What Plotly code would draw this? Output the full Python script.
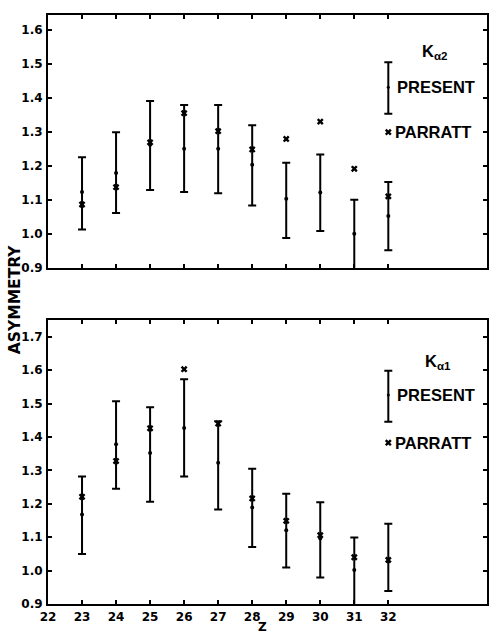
import plotly.graph_objects as go

# ---- data ----
z = [23, 24, 25, 26, 27, 28, 29, 30, 31, 32]
x_ticks = [22, 23, 24, 25, 26, 27, 28, 29, 30, 31, 32]

# K alpha 2 (top panel)
ka2_present = [1.124, 1.180, 1.263, 1.251, 1.251, 1.204, 1.104, 1.122, 1.001, 1.053]
ka2_low = [1.013, 1.062, 1.130, 1.124, 1.120, 1.084, 0.988, 1.009, 0.880, 0.952]
ka2_high = [1.226, 1.300, 1.392, 1.380, 1.380, 1.320, 1.210, 1.234, 1.101, 1.153]
ka2_parratt = [1.087, 1.138, 1.270, 1.356, 1.303, 1.249, 1.280, 1.331, 1.192, 1.111]

# K alpha 1 (bottom panel)
ka1_present = [1.168, 1.378, 1.352, 1.427, 1.323, 1.189, 1.121, 1.096, 1.002, 1.027]
ka1_low = [1.050, 1.245, 1.206, 1.282, 1.183, 1.071, 1.009, 0.979, 0.880, 0.939]
ka1_high = [1.282, 1.507, 1.489, 1.573, 1.447, 1.305, 1.230, 1.205, 1.099, 1.140]
ka1_parratt = [1.221, 1.328, 1.426, 1.603, 1.440, 1.216, 1.149, 1.106, 1.040, 1.032]

# legend samples (drawn inside each panel)
leg_x = [32]
leg2_present, leg2_low, leg2_high, leg2_parratt = [1.432], [1.354], [1.506], [1.300]
leg1_present, leg1_low, leg1_high, leg1_parratt = [1.526], [1.446], [1.598], [1.383]

FONT = "Liberation Sans"
TICKFONT = "DejaVu Sans"
BLACK = "black"

fig = go.Figure()


def add_panel(xa, ya, xs, c, lo, hi, par, dot=4):
    fig.add_trace(go.Scatter(
        x=xs, y=c, mode="markers", xaxis=xa, yaxis=ya,
        marker=dict(symbol="circle", size=dot, color=BLACK),
        error_y=dict(type="data", symmetric=False,
                     array=[h - v for h, v in zip(hi, c)],
                     arrayminus=[v - l for v, l in zip(c, lo)],
                     color=BLACK, thickness=2, width=4),
        showlegend=False, hoverinfo="skip"))
    fig.add_trace(go.Scatter(
        x=xs, y=par, mode="markers", xaxis=xa, yaxis=ya,
        marker=dict(symbol="x", size=6, color=BLACK),
        showlegend=False, hoverinfo="skip"))


add_panel("x", "y", z, ka2_present, ka2_low, ka2_high, ka2_parratt)
add_panel("x2", "y2", z, ka1_present, ka1_low, ka1_high, ka1_parratt)
# legend sample marks
add_panel("x", "y", leg_x, leg2_present, leg2_low, leg2_high, leg2_parratt, dot=3)
add_panel("x2", "y2", leg_x, leg1_present, leg1_low, leg1_high, leg1_parratt, dot=3)

tickfont = dict(family=TICKFONT, size=12, color=BLACK, weight="bold")
common_axis = dict(showline=True, linewidth=2, linecolor=BLACK, mirror="ticks",
                   ticks="inside", ticklen=4, tickwidth=1.5, tickcolor=BLACK,
                   showgrid=False, zeroline=False, tickfont=tickfont)

fig.update_layout(
    width=490, height=635,
    margin=dict(l=48, r=1, t=15, b=31),
    paper_bgcolor="white", plot_bgcolor="white",
    font=dict(family=FONT, color=BLACK),
    xaxis=dict(domain=[0, 1], anchor="y", range=[22, 34.9],
               tickvals=x_ticks, showticklabels=False, **common_axis),
    yaxis=dict(domain=[0.5705, 1], anchor="x", range=[0.9, 1.645],
               tick0=0.9, dtick=0.1, tickformat=".1f", ticklabelstandoff=1, **common_axis),
    xaxis2=dict(domain=[0, 1], anchor="y2", range=[22, 34.9],
                tickvals=x_ticks, ticktext=[str(v) for v in x_ticks],
                ticklabelstandoff=1, **common_axis),
    yaxis2=dict(domain=[0, 0.482], anchor="x2", range=[0.9, 1.75],
                tick0=0.9, dtick=0.1, tickformat=".1f", ticklabelstandoff=1, **common_axis),
)

lab = dict(family=FONT, size=16.5, color=BLACK, weight="bold")
ann = [
    dict(text="K<sub>α2</sub>", x=32.94, y=1.535, xref="x", yref="y", showarrow=False,
         font=lab, xanchor="left", yanchor="middle"),
    dict(text="PRESENT", x=32.2, y=1.432, xref="x", yref="y", showarrow=False,
         font=lab, xanchor="left", yanchor="middle"),
    dict(text="PARRATT", x=32.15, y=1.300, xref="x", yref="y", showarrow=False,
         font=lab, xanchor="left", yanchor="middle"),
    dict(text="K<sub>α1</sub>", x=33.02, y=1.625, xref="x2", yref="y2", showarrow=False,
         font=lab, xanchor="left", yanchor="middle"),
    dict(text="PRESENT", x=32.2, y=1.526, xref="x2", yref="y2", showarrow=False,
         font=lab, xanchor="left", yanchor="middle"),
    dict(text="PARRATT", x=32.15, y=1.383, xref="x2", yref="y2", showarrow=False,
         font=lab, xanchor="left", yanchor="middle"),
    dict(text="ASYMMETRY", x=-0.075, y=0.516, xref="paper", yref="paper", showarrow=False,
         textangle=-90, font=dict(family=TICKFONT, size=15.5, color=BLACK, weight="bold"),
         xanchor="center", yanchor="middle"),
    dict(text="Z", x=28.3, y=0, xref="x2", yref="paper", yshift=-23, showarrow=False,
         font=dict(family=TICKFONT, size=12, color=BLACK, weight="bold"),
         xanchor="center", yanchor="middle"),
]
fig.update_layout(annotations=ann)

fig.write_html("out.html")
